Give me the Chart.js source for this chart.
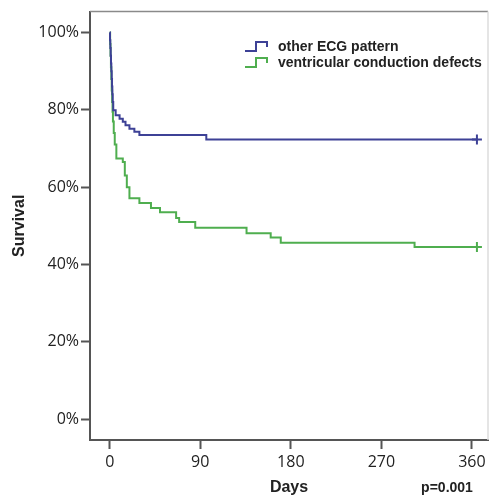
<!DOCTYPE html>
<html>
<head>
<meta charset="utf-8">
<script src="https://cdn.jsdelivr.net/npm/chart.js@4.4.1/dist/chart.umd.min.js"></script>
<style>
    html, body { margin: 0; padding: 0; background: #fff; }
    #wrap { width: 495px; height: 500px; }
</style>
</head>
<body>
<div id="wrap"><canvas id="chart"></canvas></div>
<script>
const seriesLabels = ["other ECG pattern", "ventricular conduction defects"];

const otherDays = [0, 0.3, 0.6, 1, 1.3, 1.6, 2, 2.3, 2.6, 3, 3.5, 5.9, 9.8, 13, 15.7, 19.6, 24.5, 29.5, 96, 365];
const otherSurvival = [100, 98, 96, 94, 92, 90, 88, 86, 84, 82, 79.9, 78.6, 77.7, 76.9, 76.0, 75.1, 74.3, 73.5, 72.3, 72.3];

const vcdDays = [0, 0.4, 0.8, 1.2, 1.6, 2, 2.4, 2.8, 3.2, 4, 5, 6.6, 13, 15, 17, 19.6, 29.5, 41, 50, 66, 69, 85, 136, 160, 170, 303, 365];
const vcdSurvival = [100, 97, 94, 91, 88, 85, 82, 79.5, 77, 74, 71, 67.4, 66.5, 63, 60, 57.1, 55.9, 54.6, 53.5, 52.0, 51.0, 49.5, 48.1, 47.0, 45.6, 44.5, 44.5];

const xTickValues = [0, 90, 180, 270, 360];
const yTickValues = [0, 20, 40, 60, 80, 100];
const pValueText = "p=0.001";

const blue = "#3d4196";
const green = "#4fae4f";
const axisColor = "#555";

function toPoints(days, values) {
    return days.map((d, i) => ({ x: d, y: values[i] }));
}

// only the last point gets the censor "+"
function lastOnly(size) {
    return (ctx) => (ctx.dataIndex === ctx.dataset.data.length - 1 ? size : 0);
}

const frameAndLegend = {
    id: "frameAndLegend",
    afterDraw(chart) {
        const { ctx, chartArea } = chart;
        ctx.save();

        // top and right frame
        ctx.strokeStyle = "#8a8a8a";
        ctx.lineWidth = 1.5;
        ctx.beginPath();
        ctx.moveTo(chartArea.left, chartArea.top);
        ctx.lineTo(chartArea.right, chartArea.top);
        ctx.stroke();
        ctx.strokeStyle = "#dcdcdc";
        ctx.beginPath();
        ctx.moveTo(chartArea.right, chartArea.top);
        ctx.lineTo(chartArea.right, chartArea.bottom);
        ctx.stroke();

        // legend with step icons
        chart.data.datasets.forEach((ds, i) => {
            const y = 47 + i * 16;
            ctx.strokeStyle = ds.borderColor;
            ctx.lineWidth = 2;
            ctx.beginPath();
            ctx.moveTo(245, y + 4);
            ctx.lineTo(256, y + 4);
            ctx.lineTo(256, y - 5);
            ctx.lineTo(267, y - 5);
            ctx.lineTo(267, y);
            ctx.stroke();
            ctx.fillStyle = "#222";
            ctx.font = "bold 14px 'Liberation Sans', Arial, sans-serif";
            ctx.textBaseline = "middle";
            ctx.textAlign = "left";
            ctx.fillText(ds.label, 278, y);
        });

        ctx.fillStyle = "#222";
        ctx.font = "bold 14px 'Liberation Sans', Arial, sans-serif";
        ctx.textAlign = "center";
        ctx.textBaseline = "middle";
        ctx.fillText(pValueText, 447, 488);
        ctx.restore();
    }
};

new Chart(document.getElementById("chart"), {
    type: "line",
    data: {
        datasets: [
            {
                label: seriesLabels[0],
                data: toPoints(otherDays, otherSurvival),
                borderColor: blue,
                backgroundColor: blue,
                borderWidth: 2,
                stepped: true,
                pointStyle: "cross",
                pointRadius: lastOnly(5),
                pointBorderWidth: 2,
                pointHoverRadius: 0
            },
            {
                label: seriesLabels[1],
                data: toPoints(vcdDays, vcdSurvival),
                borderColor: green,
                backgroundColor: green,
                borderWidth: 2,
                stepped: true,
                pointStyle: "cross",
                pointRadius: lastOnly(5),
                pointBorderWidth: 2,
                pointHoverRadius: 0
            }
        ]
    },
    options: {
        responsive: true,
        maintainAspectRatio: false,
        animation: false,
        layout: { padding: { top: 9, right: 2, left: 0, bottom: 0 } },
        plugins: {
            legend: { display: false },
            tooltip: { enabled: false }
        },
        scales: {
            x: {
                type: "linear",
                min: -19.6,
                max: 376,
                afterBuildTicks: (scale) => {
                    scale.ticks = xTickValues.map((v) => ({ value: v }));
                },
                afterFit: (scale) => {
                    scale.height = 60;
                },
                ticks: {
                    color: "#222",
                    padding: 4,
                    maxRotation: 0,
                    font: { family: "'Open Sans', sans-serif", size: 16 }
                },
                grid: {
                    drawOnChartArea: false,
                    drawTicks: true,
                    tickLength: 9,
                    tickWidth: 2,
                    tickColor: axisColor
                },
                border: { display: true, color: axisColor, width: 2 },
                title: {
                    display: true,
                    text: "Days",
                    color: "#222",
                    padding: { top: 0, bottom: 3 },
                    font: { family: "'Liberation Sans', Arial, sans-serif", size: 16, weight: "bold" }
                }
            },
            y: {
                min: -5.4,
                max: 105.4,
                afterBuildTicks: (scale) => {
                    scale.ticks = yTickValues.map((v) => ({ value: v }));
                },
                afterFit: (scale) => {
                    scale.width = 90;
                },
                ticks: {
                    color: "#222",
                    padding: 2,
                    callback: (value) => `${value}%`,
                    font: { family: "'Open Sans', sans-serif", size: 16 }
                },
                grid: {
                    drawOnChartArea: false,
                    drawTicks: true,
                    tickLength: 9,
                    tickWidth: 2,
                    tickColor: axisColor
                },
                border: { display: true, color: axisColor, width: 2 },
                title: {
                    display: true,
                    text: "Survival",
                    color: "#222",
                    padding: { top: 10, bottom: 0 },
                    font: { family: "'Liberation Sans', Arial, sans-serif", size: 16, weight: "bold" }
                }
            }
        }
    },
    plugins: [frameAndLegend]
});
</script>
</body>
</html>
